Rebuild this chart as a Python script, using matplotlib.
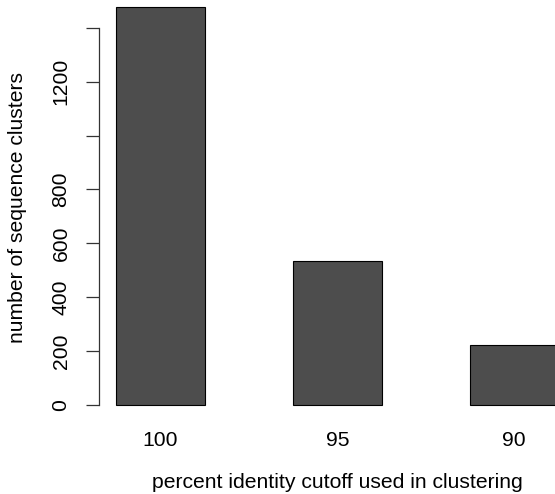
import numpy as np
import matplotlib
matplotlib.use("Agg")
import matplotlib.pyplot as plt

cutoffs = ["100", "95", "90"]
clusters = [1475, 534, 223]
yticks = [0, 200, 400, 600, 800, 1000, 1200, 1400]
ylabels = ["0", "200", "400", "600", "800", "", "1200", ""]

plt.rcParams['font.family'] = ['Liberation Sans', 'DejaVu Sans']
FS = 15.2

W, H = 555, 494
fig = plt.figure(figsize=(W / 100, H / 100), dpi=100)

# pixel geometry of the plot region
px_per_unit = (405 - 27.7) / 1400
y_bot = -20
y_top = 405 / px_per_unit
ax_bottom_px = 405 + 20 * px_per_unit
ax = fig.add_axes([99 / W, 1 - ax_bottom_px / H, (W - 99) / W, ax_bottom_px / H])

x = np.arange(len(clusters)) * 2 + 1.5
ax.bar(x, clusters, width=1.0, color="#4d4d4d", edgecolor="black", linewidth=0.8)

ax.set_xlim(1 - 17 / 88.5, 1 + (W - 116) / 88.5)
ax.set_ylim(y_bot, y_top)

for s in ["top", "right", "bottom"]:
    ax.spines[s].set_visible(False)
ax.spines["left"].set_bounds(0, 1400)
ax.spines["left"].set_linewidth(0.9)
ax.spines["left"].set_color("#333333")

ax.set_yticks(yticks)
ax.set_yticklabels(ylabels, rotation=90, va="center", fontsize=FS)
ax.tick_params(axis="y", length=9.5, width=0.9, color="#333333", pad=11)

ax.set_xticks(x)
ax.set_xticklabels(cutoffs, fontsize=FS)
ax.tick_params(axis="x", length=0, pad=15)

fig.text(18 / W, 1 - 207 / H, "number of sequence clusters", rotation=90,
         ha="center", va="center", fontsize=FS)
fig.text(337 / W, 1 - 482 / H, "percent identity cutoff used in clustering",
         ha="center", va="center", fontsize=FS)

fig.savefig("out.png", dpi=100)
